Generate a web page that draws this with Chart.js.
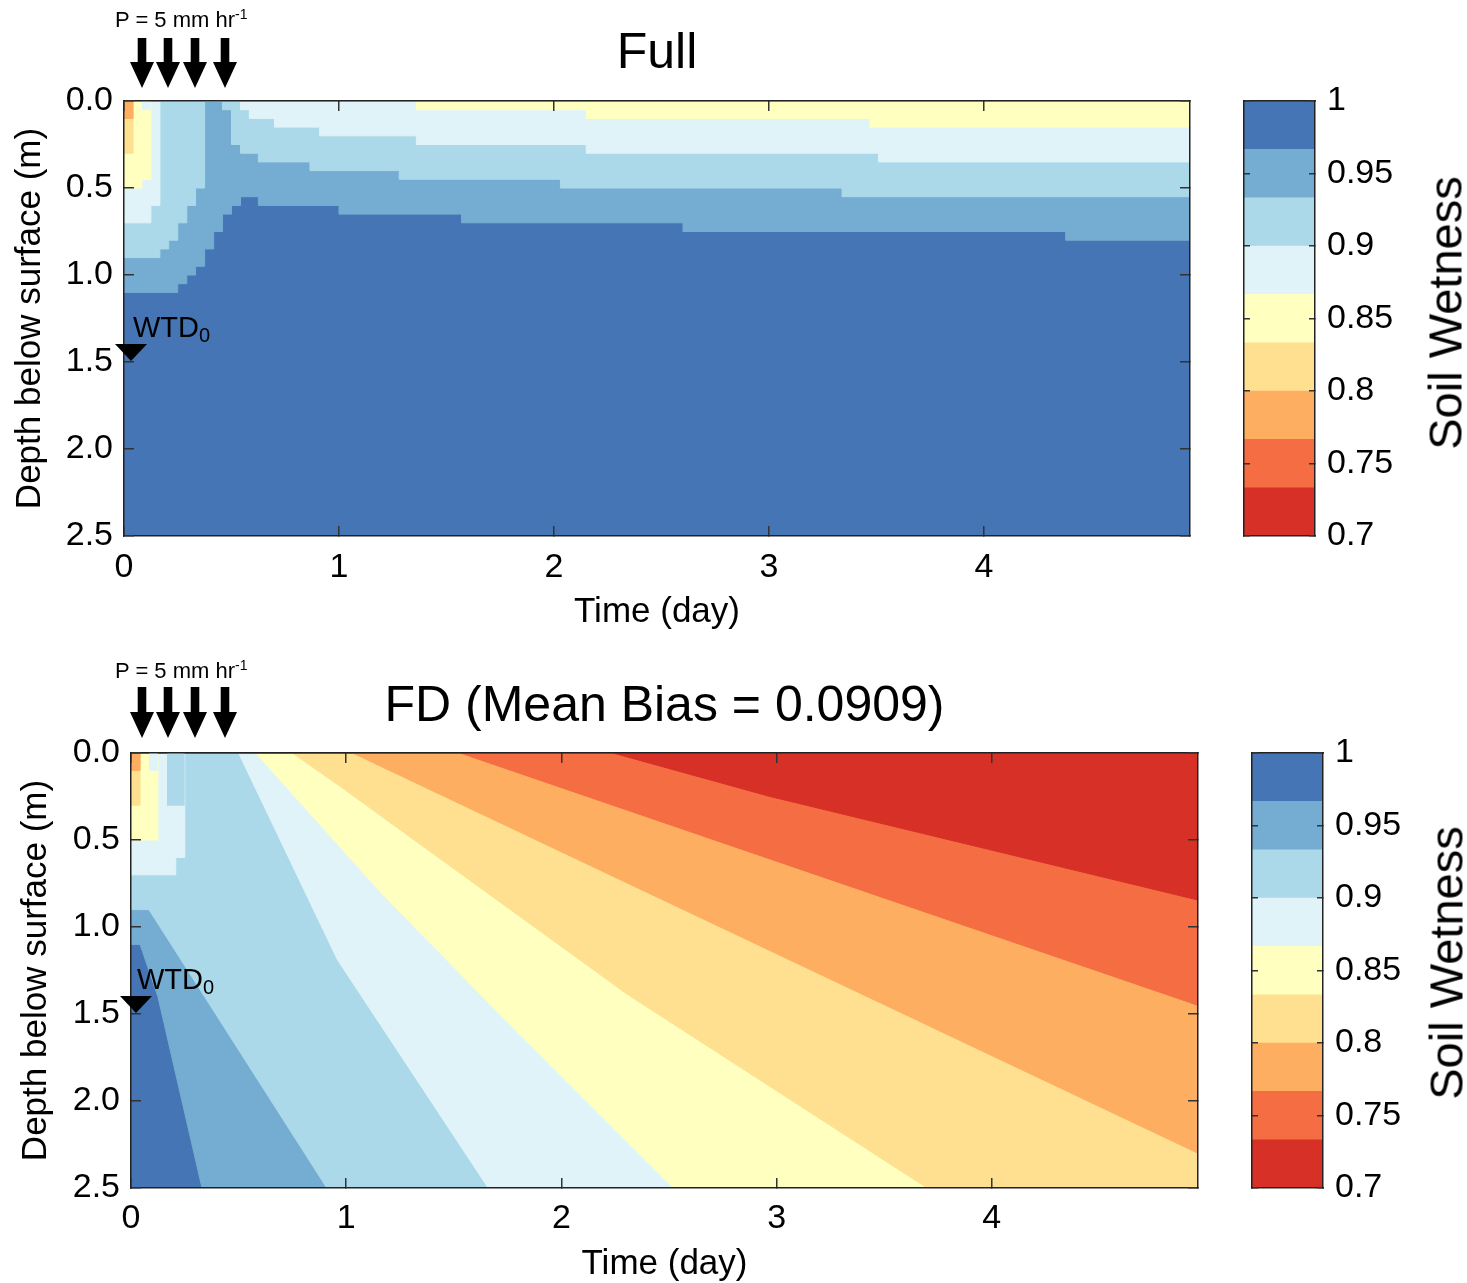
<!DOCTYPE html>
<html><head><meta charset="utf-8">
<script src="https://cdn.jsdelivr.net/npm/chart.js@4.4.1/dist/chart.umd.min.js"></script>
<style>
html,body{margin:0;padding:0;background:#fff;}
body{width:1467px;height:1283px;position:relative;overflow:hidden;font-family:'Liberation Sans',Arial,sans-serif;}
canvas{position:absolute;}
.lbl{position:absolute;white-space:nowrap;color:#000;line-height:1;}
.rain{font-size:22px;left:115px;}
.rain sup{font-size:14px;vertical-align:8px;line-height:0;}
.wtd{font-size:29px;}
.wtd sub{font-size:20px;vertical-align:-5px;line-height:0;}
.sw{font-size:47px;transform:translate(-50%,-50%) rotate(-90deg);}
</style></head>
<body>
<canvas id="fullMain" width="1230" height="650" style="left:0;top:0;width:1230px;height:650px"></canvas>
<canvas id="fullBar" width="237" height="650" style="left:1230px;top:0;width:237px;height:650px"></canvas>
<canvas id="fdMain" width="1240" height="640" style="left:0;top:645px;width:1240px;height:640px"></canvas>
<canvas id="fdBar" width="227" height="640" style="left:1240px;top:645px;width:227px;height:640px"></canvas>

<div class="lbl rain" style="top:9px">P = 5 mm hr<sup>-1</sup></div>
<div class="lbl wtd" style="left:133px;top:313px">WTD<sub>0</sub></div>
<div class="lbl sw" style="left:1445px;top:313px">Soil Wetness</div>

<div class="lbl rain" style="top:660px">P = 5 mm hr<sup>-1</sup></div>
<div class="lbl wtd" style="left:137px;top:965px">WTD<sub>0</sub></div>
<div class="lbl sw" style="left:1446px;top:963px">Soil Wetness</div>

<script>
// ---------- data ----------
const TMAX = 119 / 24;                       // last hour of the 5-day run, in days
const DEPTH_MAX = 2.5;
const WTD0 = 1.5;                            // initial water table depth (m)
const xTickValues = [0, 1, 2, 3, 4];
const yTickValues = [0, 0.5, 1.0, 1.5, 2.0, 2.5];
const levels = [0.7, 0.7333, 0.7667, 0.8, 0.8333, 0.8667, 0.9, 0.9333, 0.9667, 1.0];
const bandColors = ['#d73027','#f46d43','#fdae61','#fee090','#ffffbf','#e0f3f8','#abd9e9','#74add1','#4575b4'];
const cbarTickValues = [0.7, 0.75, 0.8, 0.85, 0.9, 0.95, 1.0];

// "Full" panel: depth (m) of contour boundary k (between band k and k+1), [time(day), depth] steps
const fullB3 = [[0,0.1],[0.042,0],[TMAX,0]];
const fullB4 = [[0,0.3],[0.042,0],[TMAX,0]];
const fullB5 = [[0,0.5],[0.083,0.45],[0.125,0],[1.36,0.05],[2.15,0.1],[3.47,0.15],[TMAX,0.15]];
const fullB6 = [[0,0.7],[0.125,0.6],[0.167,0],[0.542,0.05],[0.583,0.1],[0.70,0.15],[0.91,0.2],[1.36,0.25],[2.15,0.3],[3.51,0.35],[TMAX,0.35]];
const fullB7 = [[0,0.9],[0.167,0.85],[0.208,0.8],[0.25,0.7],[0.292,0.6],[0.333,0.5],[0.375,0],[0.458,0.05],[0.5,0.25],[0.542,0.3],[0.625,0.35],[0.865,0.4],[1.28,0.45],[2.03,0.5],[3.34,0.55],[TMAX,0.55]];
const fullB8 = [[0,1.1],[0.25,1.05],[0.292,1.0],[0.333,0.95],[0.375,0.85],[0.417,0.75],[0.458,0.65],[0.5,0.6],[0.542,0.55],[0.625,0.6],[1.0,0.65],[1.57,0.7],[2.6,0.75],[4.38,0.8],[TMAX,0.8]];
const fullWetCap = [[0.083,0.05],[0.125,0.05]];        // band 6 wetting at the surface

// "FD" panel boundaries
const fdB1 = [[0,0],[2.24,0],[2.97,0.25],[TMAX,0.845]];
const fdB2 = [[0,0],[1.53,0],[TMAX,1.45]];
const fdB3 = [[0,0.1],[0.042,0.1],[0.042,0],[1.03,0],[TMAX,2.3]];
const fdB4 = [[0,0.3],[0.042,0.3],[0.042,0],[0.75,0],[0.97,0.19],[2.31,1.39],[3.70,2.5],[TMAX,2.5]];
const fdB5 = [[0,0.5],[0.125,0.5],[0.125,0],[0.58,0],[1.16,0.8],[1.72,1.51],[2.52,2.5],[TMAX,2.5]];
const fdB6 = [[0,0.7],[0.208,0.7],[0.208,0.6],[0.25,0.6],[0.25,0],[0.5,0],[0.96,1.19],[1.66,2.5],[TMAX,2.5]];
const fdB7 = [[0,0.9],[0.083,0.9],[0.91,2.5],[TMAX,2.5]];
const fdB8 = [[0,1.1],[0.042,1.1],[0.125,1.4],[0.33,2.5],[TMAX,2.5]];
const fdWetCap6 = [[0.083,0.1],[0.125,0.1]];
const fdWetCap7 = [[0.167,0.3],[0.25,0.3]];

const rainArrowX = [142, 168, 195, 225];   // annotation arrow positions (px)

// ---------- helpers ----------
const FONT = "'Liberation Sans', Arial, sans-serif";
Chart.defaults.font.family = FONT;
Chart.defaults.color = '#000';

const markerPlugin = {
  id: 'marks',
  afterDraw(chart, args, o) {
    const {ctx, chartArea, scales} = chart;
    ctx.save();
    ctx.fillStyle = '#000';
    const tip = chartArea.top - o.arrowGap;
    const top = tip - o.arrowLen;
    const headLen = 26, headHalf = 12, shaftHalf = 4.3;
    for (const ax of o.arrowX) {
      ctx.beginPath();
      ctx.moveTo(ax - shaftHalf, top);
      ctx.lineTo(ax + shaftHalf, top);
      ctx.lineTo(ax + shaftHalf, tip - headLen);
      ctx.lineTo(ax + headHalf, tip - headLen);
      ctx.lineTo(ax, tip);
      ctx.lineTo(ax - headHalf, tip - headLen);
      ctx.lineTo(ax - shaftHalf, tip - headLen);
      ctx.closePath();
      ctx.fill();
    }
    const ty = scales.y.getPixelForValue(WTD0) - 1;
    const tx = chartArea.left + o.triOffset;
    ctx.beginPath();
    ctx.moveTo(tx - 16, ty - 17);
    ctx.lineTo(tx + 16, ty - 17);
    ctx.lineTo(tx, ty);
    ctx.closePath();
    ctx.fill();
    ctx.restore();
  }
};

function fillDataset(pts, color, order, stepped) {
  return {data: pts, backgroundColor: color, borderColor: color, borderWidth: 1,
          fill: {value: 0}, pointRadius: 0, pointHoverRadius: 0, stepped: stepped,
          tension: 0, order: order};
}

function buildDatasets(bounds, caps, stepped) {
  const ds = [fillDataset([[0, DEPTH_MAX], [TMAX, DEPTH_MAX]], bandColors[8], 20, false)];
  for (const [k, pts] of bounds) ds.push(fillDataset(pts, bandColors[k - 1], k, stepped));
  for (const [ci, pts] of caps) ds.push(fillDataset(pts, bandColors[ci], 0, false));
  return ds;
}

const gridOpts = (len) => ({display: true, drawOnChartArea: false, drawTicks: true, tickLength: len,
                             color: '#333', lineWidth: 1.5, z: 2});
const borderOpts = {display: true, color: '#222', width: 1.5, z: 2};

function mainChart(id, title, datasets, L) {
  return new Chart(document.getElementById(id), {
    type: 'line',
    data: {datasets},
    options: {
      responsive: false, animation: false, events: [],
      layout: {padding: 0},
      plugins: {
        legend: {display: false}, tooltip: {enabled: false},
        title: {display: true, text: title, fullSize: false, color: '#000',
                font: {size: 50, weight: 'normal'}, padding: {top: L.titleTop, bottom: L.titleBottom}},
        marks: {arrowX: rainArrowX, arrowGap: L.arrowGap, arrowLen: L.arrowLen, triOffset: L.triOffset}
      },
      scales: {
        x: {type: 'linear', position: 'bottom', min: 0, max: TMAX,
            afterFit: s => { s.height = L.xH; },
            afterBuildTicks: s => { s.ticks = xTickValues.map(v => ({value: v})); },
            ticks: {font: {size: 34}, color: '#000', padding: L.xPad, maxRotation: 0, autoSkip: false,
                    callback: v => String(v)},
            grid: gridOpts(-10), border: borderOpts,
            title: {display: true, text: 'Time (day)', color: '#000', font: {size: 35},
                    padding: {top: 0, bottom: L.xTitlePad}}},
        x2: {type: 'linear', position: 'top', min: 0, max: TMAX,
             afterFit: s => { s.height = 10; },
             afterBuildTicks: s => { s.ticks = xTickValues.map(v => ({value: v})); },
             ticks: {display: false}, grid: gridOpts(-10), border: borderOpts},
        y: {type: 'linear', position: 'left', reverse: true, min: 0, max: DEPTH_MAX,
            afterFit: s => { s.width = L.yW; },
            afterBuildTicks: s => { s.ticks = yTickValues.map(v => ({value: v})); },
            ticks: {font: {size: 34}, color: '#000', padding: 21, autoSkip: false,
                    callback: v => Number(v).toFixed(1)},
            grid: gridOpts(-10), border: borderOpts,
            title: {display: true, text: 'Depth below surface (m)', color: '#000', font: {size: 35},
                    padding: {top: L.yTitlePad, bottom: 0}}},
        y2: {type: 'linear', position: 'right', reverse: true, min: 0, max: DEPTH_MAX,
             afterFit: s => { s.width = L.y2W; },
             afterBuildTicks: s => { s.ticks = yTickValues.map(v => ({value: v})); },
             ticks: {display: false}, grid: gridOpts(-10), border: borderOpts}
      }
    },
    plugins: [markerPlugin]
  });
}

function colorBar(id, L) {
  return new Chart(document.getElementById(id), {
    type: 'bar',
    data: {
      labels: ['Soil Wetness'],
      datasets: bandColors.map((c, i) => ({data: [[levels[i], levels[i + 1]]], backgroundColor: c,
        borderWidth: 0, grouped: false, barPercentage: 1, categoryPercentage: 1}))
    },
    options: {
      responsive: false, animation: false, events: [],
      layout: {padding: {top: L.top, bottom: L.bottom, left: 0, right: 0}},
      plugins: {legend: {display: false}, tooltip: {enabled: false}},
      scales: {
        x: {display: false},
        xt: {type: 'linear', position: 'top', min: 0, max: 1, afterFit: s => { s.height = 0; },
             ticks: {display: false}, grid: {display: false}, border: borderOpts},
        xb: {type: 'linear', position: 'bottom', min: 0, max: 1, afterFit: s => { s.height = 0; },
             ticks: {display: false}, grid: {display: false}, border: borderOpts},
        y: {position: 'right', min: 0.7, max: 1.0,
            afterFit: s => { s.width = L.rightW; },
            afterBuildTicks: s => { s.ticks = cbarTickValues.map(v => ({value: v})); },
            ticks: {font: {size: 34}, color: '#000', padding: 18, autoSkip: false,
                    callback: v => String(+Number(v).toFixed(2))},
            grid: gridOpts(-6), border: borderOpts},
        y2: {type: 'linear', position: 'left', min: 0.7, max: 1.0,
             afterFit: s => { s.width = L.leftW; },
             afterBuildTicks: s => { s.ticks = cbarTickValues.map(v => ({value: v})); },
             ticks: {display: false}, grid: gridOpts(-6), border: borderOpts}
      }
    }
  });
}

// ---------- build ----------
const fullSets = buildDatasets(
  [[3, fullB3], [4, fullB4], [5, fullB5], [6, fullB6], [7, fullB7], [8, fullB8]],
  [[5, fullWetCap]], true);
const fdSets = buildDatasets(
  [[1, fdB1], [2, fdB2], [3, fdB3], [4, fdB4], [5, fdB5], [6, fdB6], [7, fdB7], [8, fdB8]],
  [[5, fdWetCap6], [6, fdWetCap7]], false);

mainChart('fullMain', 'Full', fullSets,
  {titleTop: 24, titleBottom: 7, xH: 114, xPad: 21, xTitlePad: 17, yW: 124, yTitlePad: 9, y2W: 40,
   arrowGap: 13, arrowLen: 50, triOffset: 7});
mainChart('fdMain', 'FD (Mean Bias = 0.0909)', fdSets,
  {titleTop: 32, titleBottom: 6, xH: 97, xPad: 20, xTitlePad: 0, yW: 131, yTitlePad: 15, y2W: 42,
   arrowGap: 15, arrowLen: 51, triOffset: 5});
colorBar('fullBar', {top: 101, bottom: 114, leftW: 14, rightW: 152});
colorBar('fdBar', {top: 108, bottom: 97, leftW: 12, rightW: 144});
</script>
</body></html>
